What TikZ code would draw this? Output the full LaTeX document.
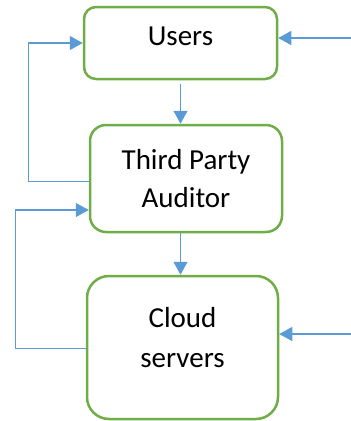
\documentclass[tikz,border=0pt]{standalone}
\usepackage{fontspec}
\setmainfont{Carlito}
\usetikzlibrary{arrows.meta}
\definecolor{boxgreen}{RGB}{112,173,71}
\definecolor{lineblue}{RGB}{91,155,213}
\begin{document}
\begin{tikzpicture}[x=1pt,y=-1pt,
  box/.style={draw=boxgreen,line width=2.5pt,rounded corners=12pt,fill=white,
    align=center,font=\fontsize{29}{38}\selectfont,inner sep=0pt},
  txt/.style={align=center,font=\fontsize{29}{40}\selectfont,inner sep=0pt},
  wire/.style={draw=lineblue,line width=1.3pt},
  arr/.style={wire,-{Triangle[length=13pt,width=14pt]}}]
\useasboundingbox (0,0) rectangle (351,421);
\node[box,minimum width=193pt,minimum height=72pt,text depth=14pt] (users) at (180.5,43) {Users};
\node[box,minimum width=192pt,minimum height=107pt,rounded corners=16pt] (tpa) at (186,178.5) {Third Party\\Auditor};
\node[box,minimum width=191pt,minimum height=143pt,rounded corners=22pt] (cloud) at (182.5,347.5) {};
\node[txt] (cloudtxt) at ([yshift=10pt]cloud.center) {Cloud\\servers};
\coordinate (uin) at (351,38);
\coordinate (cin) at (351,334);

\draw[arr] ([yshift=-4pt]users.south) -- (users.south |- tpa.north);
\draw[arr] (tpa.south -| users.south) -- (users.south |- cloud.north);
\draw[arr] ([yshift=-3pt]tpa.west) -- ++(-60,0) |- (users.west);
\draw[arr] ([yshift=-1pt]cloud.west) -- ++(-70,0) |- ([yshift=-31.5pt]tpa.west);
\draw[arr] (uin) -- (uin -| users.east);
\draw[arr] (cin) -- (cin -| cloud.east);
\end{tikzpicture}
\end{document}
